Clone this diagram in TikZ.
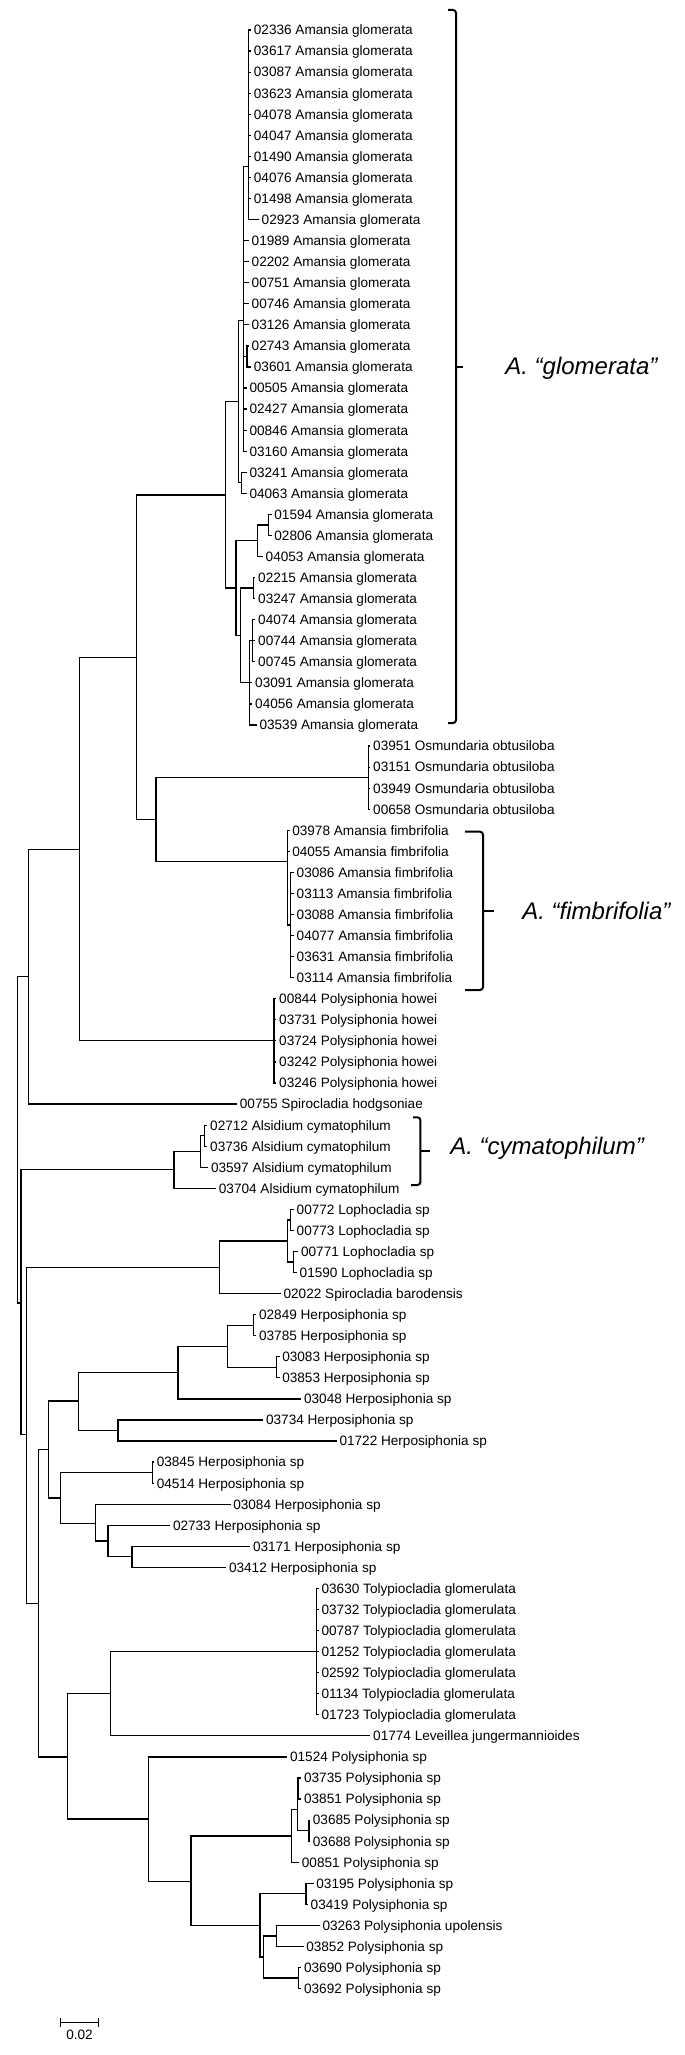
\documentclass[tikz,border=0pt]{standalone}
\usepackage{fontspec}
\setmainfont{Liberation Sans}
\tikzset{
  br/.style={line width=0.6pt, line cap=rect},
  lab/.style={anchor=west, inner xsep=1.5pt, inner ysep=0pt, text height=4.87pt, text depth=0pt, font=\fontsize{6.8}{8}\selectfont},
  biglab/.style={anchor=west, inner sep=0pt, font=\fontsize{12}{14}\selectfont\itshape},
  brk/.style={line width=1pt, rounded corners=1.5pt},
}
\newcommand\Leaf[3]{\node[lab] (L#1) at (#2,#1) {#3};}
\newcommand\TEd[3]{\draw[br] (#2) -| (#1) |- (#3);}
\newcommand\TEb[2]{\draw[br] (#1 |- #2) -- (#2);}
\begin{document}
\begin{tikzpicture}[x=0.5pt,y=-0.5pt]
\fill[white] (0,0) rectangle (685,2055);
\useasboundingbox (0,0) rectangle (685,2055);
\begin{scope}[y=-10.53pt, yshift=-15pt]
% ---- leaves
\Leaf{0}{250.5}{02336 Amansia glomerata}
\Leaf{1}{250.5}{03617 Amansia glomerata}
\Leaf{2}{250.5}{03087 Amansia glomerata}
\Leaf{3}{250.5}{03623 Amansia glomerata}
\Leaf{4}{250.5}{04078 Amansia glomerata}
\Leaf{5}{250.5}{04047 Amansia glomerata}
\Leaf{6}{250.5}{01490 Amansia glomerata}
\Leaf{7}{250.5}{04076 Amansia glomerata}
\Leaf{8}{250.5}{01498 Amansia glomerata}
\Leaf{9}{258.3}{02923 Amansia glomerata}
\Leaf{10}{248.3}{01989 Amansia glomerata}
\Leaf{11}{248.3}{02202 Amansia glomerata}
\Leaf{12}{248.3}{00751 Amansia glomerata}
\Leaf{13}{248.3}{00746 Amansia glomerata}
\Leaf{14}{248.3}{03126 Amansia glomerata}
\Leaf{15}{248.3}{02743 Amansia glomerata}
\Leaf{16}{250.5}{03601 Amansia glomerata}
\Leaf{17}{246.1}{00505 Amansia glomerata}
\Leaf{18}{246.1}{02427 Amansia glomerata}
\Leaf{19}{246.1}{00846 Amansia glomerata}
\Leaf{20}{246.1}{03160 Amansia glomerata}
\Leaf{21}{246.1}{03241 Amansia glomerata}
\Leaf{22}{246.1}{04063 Amansia glomerata}
\Leaf{23}{271.0}{01594 Amansia glomerata}
\Leaf{24}{271.0}{02806 Amansia glomerata}
\Leaf{25}{262.3}{04053 Amansia glomerata}
\Leaf{26}{254.8}{02215 Amansia glomerata}
\Leaf{27}{254.8}{03247 Amansia glomerata}
\Leaf{28}{254.8}{04074 Amansia glomerata}
\Leaf{29}{254.8}{00744 Amansia glomerata}
\Leaf{30}{254.8}{00745 Amansia glomerata}
\Leaf{31}{251.8}{03091 Amansia glomerata}
\Leaf{32}{251.8}{04056 Amansia glomerata}
\Leaf{33}{256.1}{03539 Amansia glomerata}
\Leaf{34}{369.8}{03951 Osmundaria obtusiloba}
\Leaf{35}{369.8}{03151 Osmundaria obtusiloba}
\Leaf{36}{369.8}{03949 Osmundaria obtusiloba}
\Leaf{37}{369.8}{00658 Osmundaria obtusiloba}
\Leaf{38}{288.9}{03978 Amansia fimbrifolia}
\Leaf{39}{288.9}{04055 Amansia fimbrifolia}
\Leaf{40}{293.3}{03086 Amansia fimbrifolia}
\Leaf{41}{293.3}{03113 Amansia fimbrifolia}
\Leaf{42}{293.3}{03088 Amansia fimbrifolia}
\Leaf{43}{293.3}{04077 Amansia fimbrifolia}
\Leaf{44}{293.3}{03631 Amansia fimbrifolia}
\Leaf{45}{293.3}{03114 Amansia fimbrifolia}
\Leaf{46}{275.8}{00844 Polysiphonia howei}
\Leaf{47}{275.8}{03731 Polysiphonia howei}
\Leaf{48}{275.8}{03724 Polysiphonia howei}
\Leaf{49}{275.8}{03242 Polysiphonia howei}
\Leaf{50}{275.8}{03246 Polysiphonia howei}
\Leaf{51}{236.5}{00755 Spirocladia hodgsoniae}
\Leaf{52}{206.8}{02712 Alsidium cymatophilum}
\Leaf{53}{206.8}{03736 Alsidium cymatophilum}
\Leaf{54}{207.6}{03597 Alsidium cymatophilum}
\Leaf{55}{215.5}{03704 Alsidium cymatophilum}
\Leaf{56}{293.3}{00772 Lophocladia sp}
\Leaf{57}{293.3}{00773 Lophocladia sp}
\Leaf{58}{297.7}{00771 Lophocladia sp}
\Leaf{59}{296.3}{01590 Lophocladia sp}
\Leaf{60}{280.2}{02022 Spirocladia barodensis}
\Leaf{61}{255.7}{02849 Herposiphonia sp}
\Leaf{62}{255.7}{03785 Herposiphonia sp}
\Leaf{63}{278.9}{03083 Herposiphonia sp}
\Leaf{64}{278.9}{03853 Herposiphonia sp}
\Leaf{65}{300.7}{03048 Herposiphonia sp}
\Leaf{66}{262.7}{03734 Herposiphonia sp}
\Leaf{67}{336.1}{01722 Herposiphonia sp}
\Leaf{68}{153.4}{03845 Herposiphonia sp}
\Leaf{69}{153.4}{04514 Herposiphonia sp}
\Leaf{70}{229.9}{03084 Herposiphonia sp}
\Leaf{71}{169.6}{02733 Herposiphonia sp}
\Leaf{72}{249.6}{03171 Herposiphonia sp}
\Leaf{73}{225.6}{03412 Herposiphonia sp}
\Leaf{74}{318.2}{03630 Tolypiocladia glomerulata}
\Leaf{75}{318.2}{03732 Tolypiocladia glomerulata}
\Leaf{76}{318.2}{00787 Tolypiocladia glomerulata}
\Leaf{77}{318.2}{01252 Tolypiocladia glomerulata}
\Leaf{78}{318.2}{02592 Tolypiocladia glomerulata}
\Leaf{79}{318.2}{01134 Tolypiocladia glomerulata}
\Leaf{80}{318.2}{01723 Tolypiocladia glomerulata}
\Leaf{81}{369.8}{01774 Leveillea jungermannioides}
\Leaf{82}{286.7}{01524 Polysiphonia sp}
\Leaf{83}{300.7}{03735 Polysiphonia sp}
\Leaf{84}{300.7}{03851 Polysiphonia sp}
\Leaf{85}{309.5}{03685 Polysiphonia sp}
\Leaf{86}{309.5}{03688 Polysiphonia sp}
\Leaf{87}{298.5}{00851 Polysiphonia sp}
\Leaf{88}{313.0}{03195 Polysiphonia sp}
\Leaf{89}{307.3}{03419 Polysiphonia sp}
\Leaf{90}{319.1}{03263 Polysiphonia upolensis}
\Leaf{91}{302.9}{03852 Polysiphonia sp}
\Leaf{92}{300.7}{03690 Polysiphonia sp}
\Leaf{93}{300.7}{03692 Polysiphonia sp}
% ---- internal nodes
\coordinate (na) at (248.2,6.5);
\coordinate (s16) at (246.9,15.5);
\coordinate (nab) at (243.4,13.8);
\coordinate (nd) at (241.7,21.5);
\coordinate (g1) at (238.2,17.65);
\coordinate (n23) at (268.8,23.5);
\coordinate (n25) at (257.8,24.25);
\coordinate (n26) at (253.5,26.5);
\coordinate (nq) at (252.6,29);
\coordinate (np) at (249.1,31);
\coordinate (n550) at (240.4,28.75);
\coordinate (g2) at (236.0,26.5);
\coordinate (glo) at (225.1,22.08);
\coordinate (osm) at (368.4,35.5);
\coordinate (f2) at (290.6,42.5);
\coordinate (fim) at (287.1,39.5);
\coordinate (n357) at (156.0,37.5);
\coordinate (n313) at (136.8,29.79);
\coordinate (how) at (274.0,48);
\coordinate (n182) at (79.5,38.9);
\coordinate (n65) at (28.4,44.95);
\coordinate (a52) at (204.5,52.5);
\coordinate (a458) at (200.1,53.25);
\coordinate (als) at (173.9,54.1);
\coordinate (l56) at (290.6,56.5);
\coordinate (l58) at (293.7,58.5);
\coordinate (l657) at (287.1,57.5);
\coordinate (lop) at (219.4,58.75);
\coordinate (h61) at (253.5,61.5);
\coordinate (h63) at (276.6,63.5);
\coordinate (h520) at (227.2,62.5);
\coordinate (h407) at (177.9,63.75);
\coordinate (h270) at (118.0,66.5);
\coordinate (h180) at (78.7,65.1);
\coordinate (h348) at (152.1,68.5);
\coordinate (h302) at (132.0,72.5);
\coordinate (h247) at (107.9,71.75);
\coordinate (h218) at (95.3,70.9);
\coordinate (h138) at (60.3,69.7);
\coordinate (her) at (48.1,67.4);
\coordinate (tol) at (316.8,77);
\coordinate (t253) at (110.6,79);
\coordinate (p682) at (298.0,83.5);
\coordinate (p707) at (309.0,85.5);
\coordinate (p680) at (297.2,84.5);
\coordinate (p667) at (291.5,85.75);
\coordinate (p700) at (305.9,88.5);
\coordinate (p632) at (276.2,90.5);
\coordinate (p683) at (298.5,92.5);
\coordinate (p602) at (263.1,91.5);
\coordinate (p595) at (260.0,90.0);
\coordinate (p437) at (191.0,87.9);
\coordinate (p340) at (148.6,84.95);
\coordinate (n155) at (67.7,82);
\coordinate (n88) at (38.5,74.7);
\coordinate (n60) at (26.2,66.7);
\coordinate (n48) at (21.0,60.45);
\coordinate (root) at (17.5,52.7);
% ---- branches
\TEd{na}{L0.west}{L9.west}
\foreach \i in {1,...,8} {\TEb{na}{L\i.west}}
\TEd{s16}{L15.west}{L16.west}
\TEd{nab}{na}{L20.west}
\foreach \i in {10,...,14,17,18,19} {\TEb{nab}{L\i.west}}
\TEb{nab}{s16}
\TEd{nd}{L21.west}{L22.west}
\TEd{g1}{nab}{nd}
\TEd{n23}{L23.west}{L24.west}
\TEd{n25}{n23}{L25.west}
\TEd{n26}{L26.west}{L27.west}
\TEd{nq}{L28.west}{L30.west}
\TEb{nq}{L29.west}
\TEd{np}{nq}{L33.west}
\TEb{np}{L31.west}
\TEb{np}{L32.west}
\TEd{n550}{n26}{np}
\TEd{g2}{n25}{n550}
\TEd{glo}{g1}{g2}
\TEd{osm}{L34.west}{L37.west}
\foreach \i in {35,36} {\TEb{osm}{L\i.west}}
\TEd{f2}{L40.west}{L45.west}
\foreach \i in {41,...,44} {\TEb{f2}{L\i.west}}
\TEd{fim}{L38.west}{f2}
\TEb{fim}{L39.west}
\TEd{n357}{osm}{fim}
\TEd{n313}{glo}{n357}
\TEd{how}{L46.west}{L50.west}
\foreach \i in {47,48,49} {\TEb{how}{L\i.west}}
\TEd{n182}{n313}{how}
\TEd{n65}{n182}{L51.west}
\TEd{a52}{L52.west}{L53.west}
\TEd{a458}{a52}{L54.west}
\TEd{als}{a458}{L55.west}
\TEd{l56}{L56.west}{L57.west}
\TEd{l58}{L58.west}{L59.west}
\TEd{l657}{l56}{l58}
\TEd{lop}{l657}{L60.west}
\TEd{h61}{L61.west}{L62.west}
\TEd{h63}{L63.west}{L64.west}
\TEd{h520}{h61}{h63}
\TEd{h407}{h520}{L65.west}
\TEd{h270}{L66.west}{L67.west}
\TEd{h180}{h407}{h270}
\TEd{h348}{L68.west}{L69.west}
\TEd{h302}{L72.west}{L73.west}
\TEd{h247}{L71.west}{h302}
\TEd{h218}{L70.west}{h247}
\TEd{h138}{h348}{h218}
\TEd{her}{h180}{h138}
\TEd{tol}{L74.west}{L80.west}
\foreach \i in {75,...,79} {\TEb{tol}{L\i.west}}
\TEd{t253}{tol}{L81.west}
\TEd{p682}{L83.west}{L84.west}
\TEd{p707}{L85.west}{L86.west}
\TEd{p680}{p682}{p707}
\TEd{p667}{p680}{L87.west}
\TEd{p700}{L88.west}{L89.west}
\TEd{p632}{L90.west}{L91.west}
\TEd{p683}{L92.west}{L93.west}
\TEd{p602}{p632}{p683}
\TEd{p595}{p700}{p602}
\TEd{p437}{p667}{p595}
\TEd{p340}{L82.west}{p437}
\TEd{n155}{t253}{p340}
\TEd{n88}{her}{n155}
\TEd{n60}{lop}{n88}
\TEd{n48}{als}{n60}
\TEd{root}{n65}{n48}
\end{scope}
% ---- clade brackets and names
\draw[brk] (448,10) -- (456,10) -- (456,723) -- (448,723);
\draw[brk] (456,366.5) -- (463,366.5);
\node[biglab] (cg) at (505,368) {A. “glomerata”};
\draw[brk] (465,831.7) -- (483,831.7) -- (483,990) -- (465,990);
\draw[brk] (483,910.8) -- (494,910.8);
\node[biglab] (cf) at (522,911) {A. “fimbrifolia”};
\draw[brk] (413,1117.3) -- (420.4,1117.3) -- (420.4,1185) -- (411,1185);
\draw[brk] (420.4,1151) -- (430,1151);
\node[biglab] (cc) at (450,1148) {A. “cymatophilum”};
% ---- scale bar
\coordinate (sb1) at (60.3,2022.7);
\coordinate (sb2) at (98.8,2022.7);
\draw[br] (sb1) -- (sb2);
\draw[br] (60.3,2019) -- (60.3,2026.5);
\draw[br] (98.8,2019) -- (98.8,2026.5);
\node[font=\fontsize{6.8}{8}\selectfont, inner sep=0pt] (sbl) at (79.5,2035) {0.02};
\end{tikzpicture}
\end{document}
